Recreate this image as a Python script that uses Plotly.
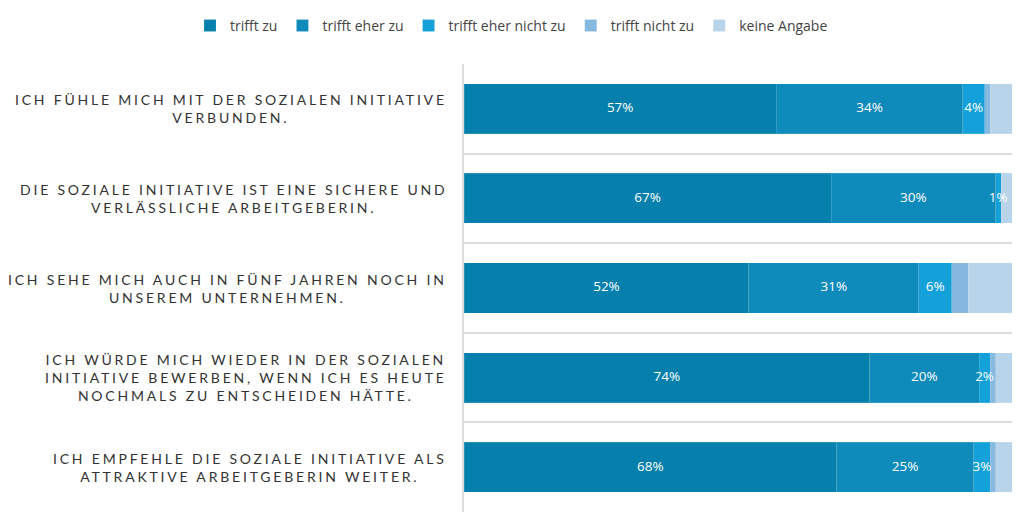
import plotly.graph_objects as go

# Survey statements (top to bottom) and answer shares in percent
statements = [
    ["ICH FÜHLE MICH MIT DER SOZIALEN INITIATIVE", "VERBUNDEN."],
    ["DIE SOZIALE INITIATIVE IST EINE SICHERE UND", "VERLÄSSLICHE ARBEITGEBERIN."],
    ["ICH SEHE MICH AUCH IN FÜNF JAHREN NOCH IN", "UNSEREM UNTERNEHMEN."],
    ["ICH WÜRDE MICH WIEDER IN DER SOZIALEN",
     "INITIATIVE BEWERBEN, WENN ICH ES HEUTE",
     "NOCHMALS ZU ENTSCHEIDEN HÄTTE."],
    ["ICH EMPFEHLE DIE SOZIALE INITIATIVE ALS", "ATTRAKTIVE ARBEITGEBERIN WEITER."],
]
categories = ["s1", "s2", "s3", "s4", "s5"]

trifft_zu = [57, 67, 52, 74, 68]
trifft_eher_zu = [34, 30, 31, 20, 25]
trifft_eher_nicht_zu = [4, 1, 6, 2, 3]
trifft_nicht_zu = [1, 0, 3, 1, 1]
keine_angabe = [4, 2, 8, 3, 3]

series = [
    ("trifft zu", trifft_zu, "#0580ac", True),
    ("trifft eher zu", trifft_eher_zu, "#0e8abb", True),
    ("trifft eher nicht zu", trifft_eher_nicht_zu, "#14a0d8", True),
    ("trifft nicht zu", trifft_nicht_zu, "#86b9e0", False),
    ("keine Angabe", keine_angabe, "#b8d4ea", False),
]

fig = go.Figure()
for name, vals, color, _ in series:
    fig.add_trace(go.Bar(
        y=categories, x=vals, name=name, orientation='h',
        marker=dict(color=color, line=dict(color='rgba(255,255,255,0.15)', width=1)),
        hoverinfo='x+name',
    ))

# value labels as a text layer above all bars (centred in each segment)
base = [0] * len(categories)
for name, vals, color, show_text in series:
    mids = [b + v / 2 for b, v in zip(base, vals)]
    if show_text:
        fig.add_trace(go.Scatter(
            x=mids, y=categories, mode='text',
            text=[f'{v}%' for v in vals],
            textposition='middle center',
            textfont=dict(family='Open Sans', size=13.5, color='white'),
            showlegend=False, hoverinfo='skip', cliponaxis=False,
        ))
    base = [b + v for b, v in zip(base, vals)]

# statement labels, centred lines with wide tracking
for cat, lines in zip(categories, statements):
    txt = '<br>'.join(f"<span style='letter-spacing:2.8px'>{l}</span>" for l in lines)
    fig.add_annotation(
        x=-0.028, xref='paper', y=cat, yref='y',
        xanchor='right', yanchor='middle', align='center',
        text=txt, showarrow=False,
        font=dict(family='Lato', size=14, color='#333333'),
    )

fig.update_layout(
    barmode='stack',
    bargap=0.44,
    width=1024, height=522,
    margin=dict(l=456, r=20, t=56, b=18, autoexpand=False),
    paper_bgcolor='white', plot_bgcolor='white',
    legend=dict(
        orientation='h', xref='paper', x=-0.5, xanchor='left',
        yref='paper', y=1.085, yanchor='middle',
        font=dict(family='Open Sans', size=14, color='#444444'),
        traceorder='normal',
    ),
    xaxis=dict(range=[0, 100], visible=False, fixedrange=True),
    yaxis=dict(
        autorange='reversed', showticklabels=False, ticks='',
        tickson='boundaries', showgrid=True, gridcolor='#dcdcdc', gridwidth=2,
        showline=True, linecolor='#dcdcdc', linewidth=2,
        zeroline=False,
    ),
)

fig.write_html("out.html")
